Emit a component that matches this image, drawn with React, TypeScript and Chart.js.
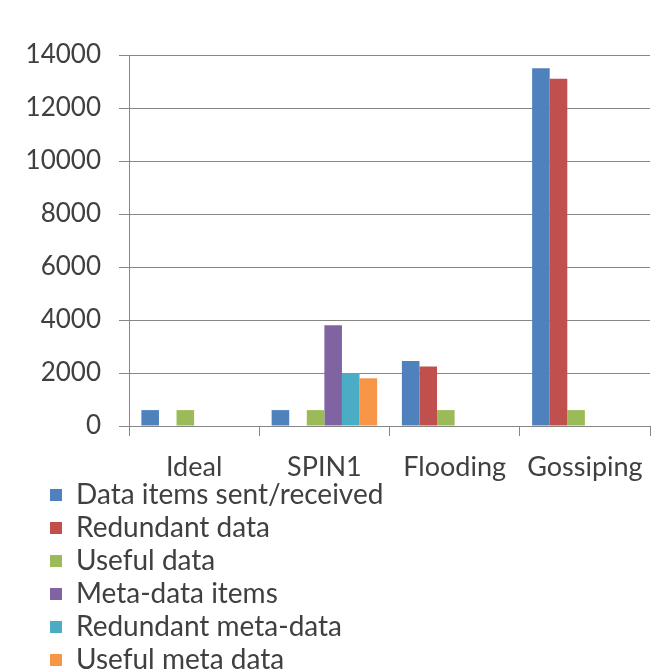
import React, { useEffect, useRef } from "react";
import { Chart, registerables } from "chart.js";

Chart.register(...registerables);

// Categories on the x axis
const categories = ["Ideal", "SPIN1", "Flooding", "Gossiping"];

// Series values, one entry per category
const dataItemsSent = [600, 600, 2450, 13500];
const redundantData = [0, 0, 2250, 13100];
const usefulData = [600, 600, 600, 600];
const metaDataItems = [0, 3800, 0, 0];
const redundantMetaData = [0, 2000, 0, 0];
const usefulMetaData = [0, 1800, 0, 0];

// Series names and fills (Office 2007 palette)
const seriesNames = [
  "Data items sent/received",
  "Redundant data",
  "Useful data",
  "Meta-data items",
  "Redundant meta-data",
  "Useful meta data",
];
const seriesColors = ["#4F81BD", "#C0504D", "#9BBB59", "#8064A2", "#4BACC6", "#F79646"];

// Value axis range
const yMin = 0;
const yMax = 14000;
const yStep = 2000;

const FONT = "Lato, 'Open Sans', sans-serif";
const TEXT = "#404040";
const LINE = "#868686";

// let tick labels spill outside their own scale box
const unclipLabels = (scale: any) => {
  scale._computeLabelArea = () => undefined;
};

export default function App() {
  const canvasRef = useRef<HTMLCanvasElement | null>(null);

  useEffect(() => {
    let chart: Chart | null = null;
    let cancelled = false;

    const build = () => {
      if (cancelled || !canvasRef.current) return;
      const series = [
        dataItemsSent,
        redundantData,
        usefulData,
        metaDataItems,
        redundantMetaData,
        usefulMetaData,
      ];
      chart = new Chart(canvasRef.current, {
        type: "bar",
        data: {
          labels: categories,
          datasets: series.map((values, i) => ({
            label: seriesNames[i],
            data: values,
            backgroundColor: seriesColors[i],
            borderWidth: 0,
            categoryPercentage: 0.81,
            barPercentage: 1.0,
          })),
        },
        options: {
          animation: false,
          responsive: false,
          devicePixelRatio: 1,
          layout: { padding: { left: 45, right: 1, top: 55, bottom: -12 } },
          scales: {
            x: {
              offset: true,
              grid: {
                offset: true,
                drawOnChartArea: false,
                drawTicks: true,
                tickLength: 10,
                color: LINE,
              },
              border: { display: true, color: LINE, width: 1 },
              ticks: {
                color: TEXT,
                font: { family: FONT, size: 27 },
                padding: 15,
                maxRotation: 0,
                autoSkip: false,
              },
              afterFit: (scale: any) => {
                scale.height = 50;
                // category labels sit well inside the plot width
                scale.paddingLeft = 0;
                scale.paddingRight = 0;
                unclipLabels(scale);
              },
            },
            y: {
              min: yMin,
              max: yMax,
              ticks: {
                stepSize: yStep,
                color: TEXT,
                font: { family: FONT, size: 26 },
                padding: 18,
                callback: (v: any) => String(v),
              },
              grid: {
                color: LINE,
                drawTicks: true,
                tickLength: 10,
              },
              border: { display: true, color: LINE, width: 1 },
              afterFit: (scale: any) => {
                scale.width = 84;
                unclipLabels(scale);
              },
            },
          },
          plugins: {
            title: { display: false },
            tooltip: { enabled: false },
            legend: {
              display: true,
              position: "bottom",
              align: "start",
              labels: {
                color: TEXT,
                font: { family: FONT, size: 28 },
                boxWidth: 12,
                boxHeight: 12,
                padding: 5,
                // trailing no-break spaces keep every entry on its own row
                generateLabels: (c: Chart) =>
                  Chart.defaults.plugins.legend.labels
                    .generateLabels(c)
                    .map((item: any) => ({
                      ...item,
                      text: item.text + "\u00A0".repeat(70),
                      lineWidth: 0,
                    })),
              },
            },
          },
        },
      });
    };

    const fonts = (document as any).fonts;
    if (fonts && fonts.load) {
      fonts.load(`26px Lato`).then(build, build);
    } else {
      build();
    }

    return () => {
      cancelled = true;
      if (chart) chart.destroy();
    };
  }, []);

  return (
    <div
      style={{
        position: "fixed",
        left: 0,
        top: 0,
        width: 651,
        height: 672,
        background: "#ffffff",
        overflow: "hidden",
      }}
    >
      <canvas ref={canvasRef} width={651} height={672} style={{ display: "block" }} />
    </div>
  );
}
